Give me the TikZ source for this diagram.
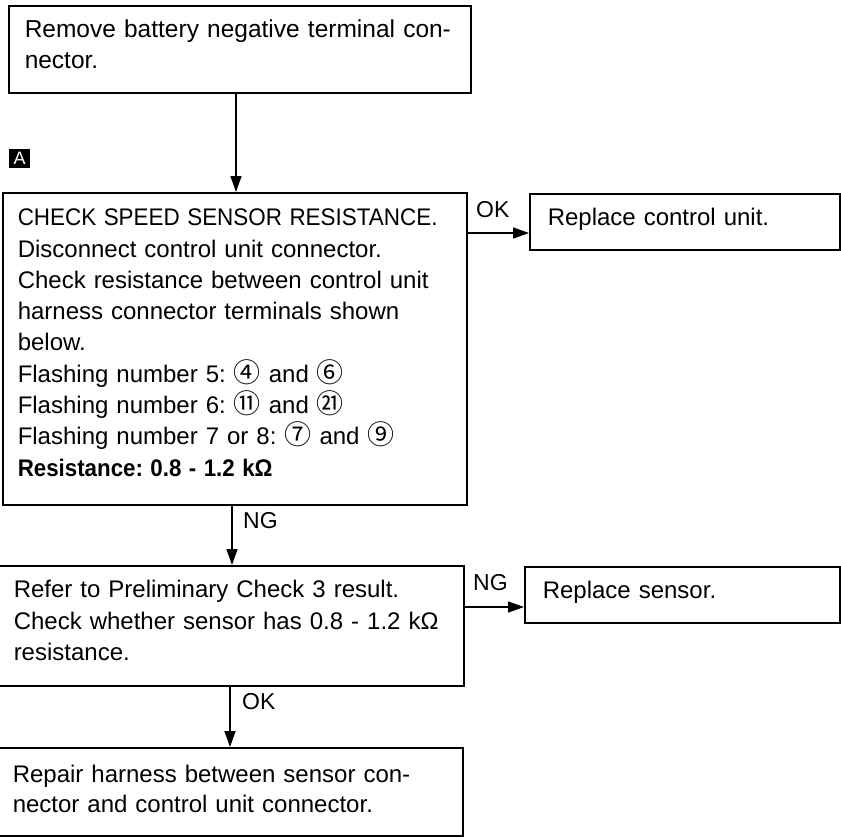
\documentclass[tikz,border=0pt]{standalone}
\usepackage{fontspec}
\usepackage{graphicx}
\setmainfont{Liberation Sans}
\newfontfamily\cjkfont{Noto Sans CJK SC}
\usetikzlibrary{arrows.meta}
\newcommand\cnum[1]{\smash{\cjkfont\fontsize{27}{27}\selectfont #1}}
\frenchspacing
\begin{document}
\begin{tikzpicture}[x=1pt,y=-1pt,
  every node/.style={font=\fontsize{24}{31.3}\selectfont},
  box/.style={draw, line width=1.5pt, rectangle, anchor=north west, inner ysep=0pt, align=left},
  arr/.style={line width=1.5pt, -{Triangle[length=16pt,width=11pt]}},
  lbl/.style={anchor=base west, inner sep=0pt, font=\fontsize{23}{23}\selectfont},
  amark/.style={fill=black, text=white, anchor=north west, inner sep=0pt, minimum width=21pt, minimum height=19pt, font=\fontsize{18}{18}\selectfont}]
\useasboundingbox (0,0) rectangle (841,836);

\node[box, inner xsep=16pt, text width=430pt, text height=32pt, text depth=55pt,
      font=\fontsize{24.5}{31}\selectfont] (b1) at (8,5)
  {Remove battery negative terminal con-\\nector.};

\node[amark] (amk) at (9,149) {A};

\node[box, inner xsep=15pt, text width=434pt, text height=33pt, text depth=279pt] (b2) at (2,192)
  {\scalebox{0.935}[1]{CHECK SPEED SENSOR RESISTANCE.}\\
   Disconnect control unit connector.\\
   Check resistance between control unit\\
   harness connector terminals shown\\
   below.\\
   Flashing number 5:\ \cnum{④}\ and\ \cnum{⑥}\\
   Flashing number 6:\ \cnum{⑪}\ and\ \cnum{㉑}\\
   Flashing number 7 or 8:\ \cnum{⑦}\ and\ \cnum{⑨}\\
   \scalebox{0.93}[1]{\textbf{Resistance: 0.8 - 1.2 kΩ}}};

\node[box, inner xsep=18pt, text width=274pt, text height=32pt, text depth=24pt] (ok1) at (529,193)
  {Replace control unit.};

\node[box, inner xsep=15pt, text width=435pt, text height=32pt, text depth=88pt] (b3) at (-2,565)
  {Refer to Preliminary Check 3 result.\\
   Check whether sensor has 0.8 - 1.2 kΩ\\
   resistance.};

\node[box, inner xsep=18pt, text width=279pt, text height=32pt, text depth=24pt] (ng2) at (524,566)
  {Replace sensor.};

\node[box, inner xsep=14pt, text width=436pt, text height=35pt, text depth=53pt,
      font=\fontsize{24}{30}\selectfont] (b4) at (-2,747)
  {Repair harness between sensor con-\\nector and control unit connector.};

\coordinate (c1) at (236,0);
\draw[arr] (b1.south -| c1) -- (b2.north -| c1);

\coordinate (c2) at (0,233);
\draw[arr] (b2.east |- c2) -- (ok1.west |- c2);
\node[lbl] (lok1) at (476,217) {OK};

\coordinate (c3) at (232,0);
\draw[arr] (b2.south -| c3) -- (b3.north -| c3);
\node[lbl] (lng1) at (243,528) {NG};

\coordinate (c4) at (0,607);
\draw[arr] (b3.east |- c4) -- (ng2.west |- c4);
\node[lbl] (lng2) at (473,590) {NG};

\coordinate (c5) at (230,0);
\draw[arr] (b3.south -| c5) -- (b4.north -| c5);
\node[lbl] (lok2) at (242,709) {OK};
\end{tikzpicture}
\end{document}
